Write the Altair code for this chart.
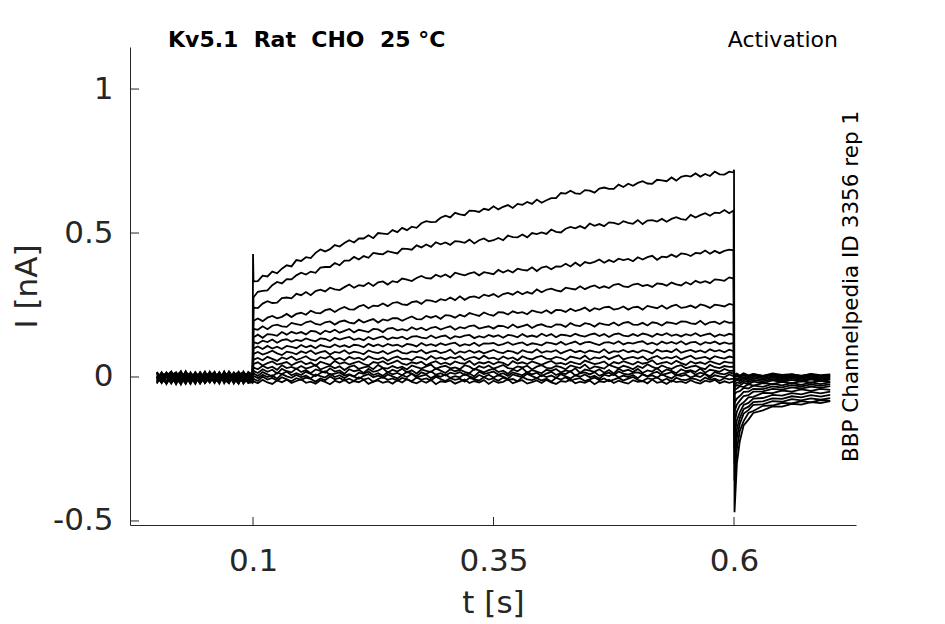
import altair as alt
import pandas as pd

# ---------------- data ----------------
TITLE = "Kv5.1\u00a0\u00a0Rat\u00a0\u00a0CHO\u00a0\u00a025\u00a0°C"
PROTOCOL = "Activation"
SOURCE = "BBP Channelpedia ID 3356 rep 1"

X_TICKS = [0.1, 0.35, 0.6]
Y_TICKS = [-0.5, 0, 0.5, 1]

# sample times [s]
PRE_T = [0.000, 0.005, 0.010, 0.015, 0.020, 0.025, 0.030, 0.035, 0.040, 0.045,
         0.050, 0.055, 0.060, 0.065, 0.070, 0.075, 0.080, 0.085, 0.090, 0.095, 0.0995]
PULSE_T = [0.1005, 0.105, 0.110, 0.115, 0.120, 0.125, 0.130, 0.135, 0.140, 0.145,
           0.150, 0.155, 0.160, 0.165, 0.170, 0.175, 0.180, 0.185, 0.190, 0.195,
           0.200, 0.205, 0.210, 0.215, 0.220, 0.225, 0.230, 0.235, 0.240, 0.245,
           0.250, 0.255, 0.260, 0.265, 0.270, 0.275, 0.280, 0.285, 0.290, 0.295,
           0.300, 0.305, 0.310, 0.315, 0.320, 0.325, 0.330, 0.335, 0.340, 0.345,
           0.350, 0.355, 0.360, 0.365, 0.370, 0.375, 0.380, 0.385, 0.390, 0.395,
           0.400, 0.405, 0.410, 0.415, 0.420, 0.425, 0.430, 0.435, 0.440, 0.445,
           0.450, 0.455, 0.460, 0.465, 0.470, 0.475, 0.480, 0.485, 0.490, 0.495,
           0.500, 0.505, 0.510, 0.515, 0.520, 0.525, 0.530, 0.535, 0.540, 0.545,
           0.550, 0.555, 0.560, 0.565, 0.570, 0.575, 0.580, 0.585, 0.590, 0.595, 0.5995]
TAIL_T = [0.6005, 0.603, 0.606, 0.61, 0.615, 0.62, 0.63, 0.64, 0.65, 0.66, 0.67, 0.68, 0.69, 0.70]

# capacitive spikes of the largest trace (trace 1), nA
SPIKE_T = [0.1, 0.6]
SPIKE_V = [0.427, 0.72]

# holding current before the step, pA (1e-3 nA)
PRE_PA = [
    [10, -18, 3, 19, -10, -1, -22, 12, -6, 16, -14, 5, -21, 9, -3, 15, -9, 18, -16, 4, 2],
    [-15, 7, -23, 1, 16, -9, 11, -19, 4, -5, 19, -12, -1, 13, -22, 6, -8, 10, 15, -17, -8],
    [16, -7, 8, -20, -1, 20, -14, 2, -24, 13, -4, 7, -17, 17, -11, 1, -20, 11, -6, 5, 4],
    [-6, 17, -15, 5, -25, 9, -2, -11, 14, -20, 3, 12, -8, -18, 19, -13, 2, -22, 13, -3, -7],
    [3, -21, 12, -5, 8, -16, 19, -9, -1, -23, 11, -6, 16, -14, 5, -20, 10, -2, -17, 18, 6],
    [-20, 8, -3, 17, -14, 2, -24, 12, -8, 6, -18, 19, -5, 3, -15, 14, -23, 5, -11, 11, -10],
    [13, -10, -21, 4, 14, -13, 20, -6, -17, 8, 1, -20, 10, -9, 17, -3, -15, 15, -23, 2, 9],
    [-12, 14, 1, -23, 6, 17, -15, -1, -9, 11, -21, 5, 16, -12, -5, 13, -19, 8, -1, -20, -4],
    [18, -15, 5, -6, -20, 9, 2, -24, 14, -11, 8, -17, -2, 16, -8, -22, 11, -12, 19, -5, 5],
    [-18, 2, 15, -9, 11, -26, 8, -1, -15, 17, -6, 12, -20, 5, 10, -11, 1, -23, 14, -14, -5],
    [5, -20, 13, 2, -12, 17, -19, 7, 11, -22, -1, -9, 18, -15, 4, 14, -5, -20, 8, -2, 2],
    [-6, 11, -24, 8, 15, -8, -1, -18, 17, -3, -15, 6, 2, -23, 12, -10, 16, -5, -17, 9, -13],
    [15, -5, -18, 11, -23, 5, 13, -12, -8, 8, -20, 1, 14, -10, 18, -17, 4, -3, 11, -21, -18],
    [-23, 8, 2, -15, 12, -3, -20, 16, -9, 3, 11, -18, 6, -1, -13, 15, -7, -21, 5, 13, 11],
    [-1, -18, 16, -6, -13, 12, 5, -23, 10, -16, 2, 15, -10, -4, 13, -15, 6, 17, -20, -7, 4],
    [-9, 10, -19, 14, -5, -24, 8, 12, -15, 5, -21, -2, 9, -11, 16, -17, 1, -12, 13, -6, -20],
    [-4, 12, -20, 6, -15, 17, -9, 2, -22, 10, -6, 15, -18, 4, -12, 19, -3, -16, 8, -10, 1],
]

# current during the step (0.1 .. 0.6 s), pA
PULSE_PA = [
    [332, 333, 352, 349, 366, 360, 376, 388, 384, 406,
     403, 416, 413, 431, 443, 436, 444, 458, 453, 465,
     475, 467, 481, 481, 492, 482, 500, 498, 496, 510,
     503, 518, 510, 522, 518, 534, 541, 538, 539, 553,
     560, 554, 570, 565, 562, 578, 577, 573, 584, 580,
     593, 582, 591, 597, 587, 601, 598, 608, 601, 616,
     605, 614, 621, 621, 639, 637, 647, 638, 636, 649,
     647, 640, 654, 658, 653, 653, 668, 660, 671, 664,
     674, 680, 672, 671, 685, 683, 680, 693, 682, 695,
     699, 696, 707, 696, 705, 698, 713, 704, 703, 713, 710],
    [277, 296, 299, 301, 319, 330, 325, 340, 339, 353,
     362, 356, 366, 362, 380, 382, 382, 396, 388, 404,
     404, 417, 408, 420, 414, 431, 428, 426, 437, 433,
     429, 446, 445, 442, 457, 450, 460, 452, 468, 461,
     467, 459, 472, 470, 466, 477, 464, 475, 481, 471,
     475, 483, 475, 491, 486, 485, 495, 485, 500, 496,
     502, 497, 512, 504, 502, 515, 521, 516, 524, 516,
     533, 525, 531, 524, 537, 535, 530, 541, 535, 532,
     545, 531, 543, 545, 540, 549, 539, 549, 555, 548,
     546, 563, 554, 562, 569, 560, 571, 569, 580, 569, 578],
    [241, 239, 255, 263, 257, 258, 274, 276, 273, 289,
     284, 295, 284, 298, 303, 297, 310, 304, 302, 312,
     321, 310, 319, 316, 327, 316, 329, 332, 321, 333,
     329, 342, 338, 333, 344, 351, 343, 342, 355, 348,
     356, 346, 362, 357, 353, 360, 364, 353, 364, 361,
     357, 372, 363, 371, 363, 376, 372, 370, 381, 368,
     380, 384, 374, 384, 383, 393, 384, 397, 386, 399,
     395, 400, 408, 397, 406, 399, 411, 406, 410, 402,
     416, 408, 416, 421, 407, 418, 416, 425, 417, 429,
     427, 420, 431, 429, 439, 428, 438, 430, 438, 442, 440],
    [195, 203, 194, 206, 212, 204, 209, 219, 208, 219,
     223, 216, 230, 223, 221, 232, 236, 226, 236, 243,
     235, 234, 245, 250, 239, 248, 246, 255, 246, 257,
     260, 252, 250, 260, 263, 254, 267, 265, 260, 270,
     266, 276, 267, 280, 268, 277, 280, 274, 286, 281,
     288, 278, 288, 292, 286, 297, 287, 295, 289, 304,
     294, 303, 307, 301, 297, 310, 307, 304, 315, 305,
     313, 318, 309, 315, 309, 320, 323, 315, 312, 321,
     324, 316, 320, 313, 325, 323, 317, 328, 322, 318,
     329, 321, 334, 327, 333, 326, 339, 337, 334, 346, 342],
    [167, 164, 176, 166, 178, 182, 176, 174, 188, 184,
     180, 190, 194, 184, 181, 190, 193, 182, 192, 196,
     189, 186, 199, 189, 196, 201, 189, 200, 196, 204,
     204, 195, 203, 210, 201, 200, 212, 206, 212, 202,
     215, 213, 206, 216, 210, 222, 217, 212, 224, 217,
     213, 225, 224, 217, 228, 222, 225, 218, 231, 226,
     223, 232, 221, 233, 232, 226, 237, 229, 234, 241,
     229, 239, 234, 242, 244, 234, 237, 245, 234, 242,
     244, 234, 247, 243, 239, 248, 237, 246, 251, 240,
     243, 248, 240, 252, 248, 240, 251, 249, 245, 254, 250],
    [138, 147, 136, 149, 147, 143, 156, 147, 157, 151,
     156, 148, 160, 158, 149, 161, 155, 164, 154, 160,
     167, 155, 164, 160, 156, 167, 165, 156, 168, 170,
     162, 166, 161, 173, 165, 171, 162, 171, 174, 165,
     171, 176, 164, 173, 169, 177, 179, 168, 172, 176,
     168, 178, 177, 170, 182, 172, 177, 182, 170, 179,
     183, 176, 173, 183, 182, 174, 187, 179, 177, 187,
     184, 175, 187, 183, 180, 189, 179, 188, 191, 182,
     181, 188, 179, 190, 187, 179, 190, 188, 184, 193,
     192, 186, 184, 195, 182, 190, 192, 184, 194, 188, 190],
    [121, 116, 126, 121, 130, 119, 128, 131, 122, 129,
     125, 134, 128, 124, 134, 132, 125, 136, 130, 135,
     139, 129, 134, 128, 139, 131, 137, 141, 130, 137,
     134, 140, 131, 140, 142, 137, 134, 144, 135, 141,
     144, 133, 142, 138, 144, 146, 135, 142, 137, 146,
     140, 145, 136, 146, 144, 138, 149, 140, 144, 139,
     150, 142, 149, 138, 147, 145, 141, 150, 144, 140,
     147, 151, 142, 149, 139, 148, 151, 144, 141, 149,
     142, 151, 147, 140, 150, 145, 152, 143, 148, 141,
     149, 144, 152, 142, 147, 151, 140, 148, 143, 150, 146],
    [99, 106, 97, 108, 99, 105, 97, 108, 105, 100,
     111, 103, 109, 100, 111, 106, 103, 113, 105, 110,
     103, 112, 110, 103, 115, 107, 113, 106, 115, 109,
     112, 105, 115, 112, 106, 118, 109, 114, 108, 117,
     111, 116, 119, 108, 114, 110, 119, 108, 117, 116,
     118, 110, 114, 121, 112, 117, 120, 110, 117, 114,
     110, 120, 118, 113, 122, 112, 118, 123, 113, 120,
     122, 116, 111, 119, 121, 115, 124, 113, 119, 116,
     121, 124, 114, 119, 112, 123, 116, 122, 115, 124,
     113, 120, 122, 112, 121, 117, 123, 114, 120, 115, 118],
    [80, 87, 78, 84, 91, 82, 76, 88, 85, 79,
     89, 83, 92, 80, 86, 90, 78, 87, 84, 93,
     81, 88, 85, 79, 92, 86, 83, 90, 80, 87,
     93, 84, 81, 89, 86, 94, 82, 88, 91, 83,
     87, 95, 80, 89, 85, 92, 84, 90, 82, 88,
     94, 86, 83, 91, 88, 81, 93, 87, 85, 96,
     84, 90, 87, 93, 82, 89, 95, 86, 91, 84,
     92, 88, 85, 96, 83, 90, 87, 94, 86, 91,
     85, 93, 89, 82, 95, 88, 91, 86, 97, 84,
     90, 94, 87, 92, 85, 96, 89, 93, 86, 95, 90],
    [60, 66, 58, 70, 63, 56, 68, 62, 71, 59,
     65, 72, 61, 57, 69, 64, 73, 60, 66, 58,
     70, 63, 67, 59, 72, 65, 61, 68, 57, 66,
     71, 62, 64, 58, 70, 67, 60, 73, 63, 68,
     61, 69, 65, 72, 59, 66, 70, 62, 74, 64,
     67, 60, 71, 63, 68, 58, 72, 65, 61, 69,
     73, 64, 62, 70, 66, 59, 71, 67, 63, 74,
     60, 68, 65, 72, 62, 69, 75, 61, 66, 70,
     64, 71, 59, 67, 73, 63, 69, 65, 72, 61,
     68, 74, 63, 66, 70, 62, 72, 67, 64, 71, 68],
    [45, 51, 40, 48, 54, 43, 47, 52, 41, 49,
     55, 44, 50, 39, 53, 47, 42, 56, 46, 51,
     43, 49, 54, 45, 40, 52, 48, 55, 44, 50,
     57, 46, 42, 51, 47, 53, 41, 49, 55, 45,
     50, 43, 54, 48, 46, 56, 42, 51, 47, 53,
     44, 52, 49, 40, 55, 47, 51, 45, 54, 48,
     42, 50, 56, 46, 49, 43, 53, 48, 44, 57,
     51, 45, 48, 54, 41, 52, 47, 55, 49, 43,
     53, 46, 50, 58, 44, 49, 52, 45, 56, 48,
     42, 54, 47, 51, 45, 55, 49, 44, 53, 50, 50],
    [33, 27, 39, 30, 36, 25, 41, 31, 35, 28,
     38, 29, 34, 42, 26, 33, 39, 30, 37, 24,
     35, 40, 28, 33, 37, 27, 42, 32, 29, 38,
     31, 36, 26, 40, 34, 29, 37, 43, 28, 35,
     39, 30, 33, 27, 41, 36, 25, 38, 32, 40,
     29, 35, 42, 31, 28, 37, 33, 39, 26, 36,
     41, 32, 30, 38, 34, 27, 40, 35, 31, 43,
     28, 37, 33, 29, 42, 36, 30, 39, 34, 27,
     38, 31, 44, 35, 29, 40, 33, 28, 37, 41,
     30, 36, 39, 32, 27, 42, 34, 31, 38, 35, 36],
    [21, 14, 27, 18, 25, 12, 28, 20, 16, 29,
     17, 24, 13, 26, 21, 15, 30, 19, 23, 11,
     27, 20, 24, 14, 28, 18, 22, 31, 15, 25,
     19, 29, 16, 23, 12, 26, 21, 17, 30, 22,
     14, 27, 20, 25, 18, 13, 28, 23, 16, 24,
     29, 17, 22, 11, 26, 20, 31, 15, 24, 19,
     13, 25, 21, 28, 16, 23, 19, 30, 14, 26,
     22, 18, 27, 15, 24, 12, 29, 20, 25, 17,
     28, 14, 23, 19, 31, 16, 26, 21, 13, 27,
     20, 24, 17, 29, 15, 25, 22, 18, 28, 21, 22],
    [12, 4, 17, 9, 2, 15, 10, 19, 6, 13,
     7, 18, 11, 3, 14, 20, 8, 12, 16, 5,
     10, 2, 15, 11, 19, 7, 13, 4, 17, 9,
     14, 6, 18, 12, 3, 16, 10, 20, 8, 13,
     5, 15, 11, 17, 7, 12, 2, 18, 10, 14,
     19, 8, 13, 4, 16, 11, 6, 17, 9, 15,
     3, 12, 18, 7, 14, 10, 20, 5, 13, 16,
     9, 17, 4, 11, 15, 6, 19, 12, 8, 14,
     16, 10, 2, 13, 18, 7, 12, 17, 5, 11,
     14, 20, 8, 15, 10, 3, 17, 12, 9, 16, 12],
    [4, -4, 8, 0, 6, -6, 10, 2, -3, 7,
     -1, 5, -5, 9, 3, -2, 11, 0, 6, -4,
     7, 1, -6, 4, 10, -1, 5, -3, 9, 2,
     -5, 6, 0, 11, -2, 4, 8, -4, 5, 1,
     9, -3, 3, -1, 10, 2, -5, 7, 0, 8,
     -2, 6, 1, -6, 9, 4, -1, 11, 3, -4,
     7, 0, 5, -3, 10, 2, -5, 6, 1, 9,
     -1, 4, -6, 8, 3, 11, -2, 5, 0, 7,
     -4, 9, 2, 6, -3, 10, 1, -5, 7, 3,
     8, -2, 5, 0, 11, -4, 6, 2, -1, 9, 3],
    [-6, -14, 1, -9, -3, -13, -1, -8, -15, -4,
     -10, -2, -7, -16, -5, -11, 2, -8, -3, -12,
     -6, -14, -1, -9, -4, -17, -7, 0, -10, -5,
     -13, -3, -8, -15, -2, -9, -5, -12, 1, -7,
     -14, -4, -10, -6, -16, -3, -8, -12, -1, -9,
     -5, -13, -2, -10, -7, -15, 0, -8, -11, -4,
     -12, -6, -16, -3, -9, -1, -13, -7, -4, -14,
     -8, -2, -11, -5, -15, -9, -3, -12, -6, 0,
     -10, -14, -4, -8, -1, -13, -6, -16, -3, -9,
     -11, -5, -7, -14, -2, -10, -6, -13, -4, -8, -6],
    [-15, -22, -10, -19, -24, -12, -18, -9, -21, -14,
     -8, -20, -16, -23, -11, -17, -25, -13, -19, -10,
     -22, -14, -18, -9, -24, -16, -12, -20, -15, -23,
     -11, -19, -7, -17, -22, -13, -20, -10, -25, -15,
     -18, -12, -23, -16, -9, -21, -14, -19, -11, -24,
     -13, -20, -17, -8, -22, -15, -11, -23, -18, -12,
     -21, -10, -19, -24, -14, -17, -9, -22, -16, -20,
     -12, -25, -15, -18, -10, -21, -13, -19, -23, -11,
     -17, -14, -22, -9, -20, -16, -24, -12, -18, -15,
     -21, -11, -19, -23, -13, -17, -10, -22, -15, -20, -16],
]

# tail currents after the step, nA
TAIL = [
    [-0.47, -0.30, -0.223, -0.168, -0.148, -0.125, -0.116, -0.102, -0.103, -0.093, -0.096, -0.087, -0.091, -0.084],
    [-0.36, -0.25, -0.187, -0.153, -0.125, -0.118, -0.100, -0.099, -0.090, -0.092, -0.084, -0.088, -0.080, -0.083],
    [-0.30, -0.21, -0.163, -0.127, -0.115, -0.097, -0.095, -0.084, -0.086, -0.077, -0.081, -0.074, -0.079, -0.073],
    [-0.25, -0.18, -0.143, -0.112, -0.103, -0.087, -0.085, -0.074, -0.076, -0.067, -0.071, -0.063, -0.068, -0.062],
    [-0.20, -0.15, -0.123, -0.097, -0.090, -0.075, -0.073, -0.062, -0.065, -0.056, -0.060, -0.052, -0.057, -0.051],
    [-0.16, -0.12, -0.098, -0.088, -0.071, -0.069, -0.055, -0.056, -0.047, -0.051, -0.043, -0.048, -0.041, -0.045],
    [-0.12, -0.095, -0.082, -0.066, -0.063, -0.051, -0.050, -0.041, -0.044, -0.036, -0.040, -0.033, -0.038, -0.032],
    [-0.09, -0.075, -0.066, -0.052, -0.051, -0.041, -0.042, -0.033, -0.036, -0.028, -0.033, -0.026, -0.031, -0.025],
    [-0.06, -0.052, -0.049, -0.038, -0.040, -0.030, -0.034, -0.024, -0.029, -0.021, -0.027, -0.019, -0.025, -0.018],
    [-0.045, -0.040, -0.032, -0.035, -0.025, -0.030, -0.021, -0.025, -0.017, -0.022, -0.014, -0.020, -0.013, -0.018],
    [-0.035, -0.028, -0.030, -0.020, -0.025, -0.016, -0.021, -0.012, -0.018, -0.010, -0.016, -0.008, -0.015, -0.009],
    [-0.025, -0.019, -0.022, -0.013, -0.018, -0.010, -0.015, -0.007, -0.013, -0.005, -0.012, -0.004, -0.011, -0.006],
    [-0.016, -0.010, -0.015, -0.006, -0.012, -0.004, -0.010, -0.001, -0.008, 0.000, -0.007, 0.001, -0.008, -0.002],
    [-0.008, -0.004, -0.009, -0.002, -0.006, 0.001, -0.005, 0.002, -0.004, 0.003, -0.003, 0.002, -0.004, 0.001],
    [-0.002, 0.004, -0.003, 0.005, -0.001, 0.006, 0.000, 0.007, -0.002, 0.005, 0.001, 0.006, -0.001, 0.004],
    [0.004, 0.008, 0.002, 0.009, 0.003, 0.010, 0.004, 0.008, 0.002, 0.009, 0.005, 0.010, 0.003, 0.007],
    [0.008, 0.012, 0.005, 0.013, 0.006, 0.011, 0.004, 0.012, 0.007, 0.010, 0.003, 0.011, 0.006, 0.009],
]

# ---------------- build table ----------------
rows = []
for k in range(len(PRE_PA)):
    ts = PRE_T + PULSE_T + TAIL_T
    vs = [p / 1000 for p in PRE_PA[k]] + [p / 1000 for p in PULSE_PA[k]] + TAIL[k]
    if k == 0:
        ts = ts + SPIKE_T
        vs = vs + SPIKE_V
    for t, v in zip(ts, vs):
        rows.append({"trace": k + 1, "t": t, "v": v})
df = pd.DataFrame(rows).sort_values(["trace", "t"])

W, H = 726, 478
INK = "#262626"
FONT = "DejaVu Sans"

xs = alt.Scale(domain=[-0.0279, 0.7268], nice=False, zero=False)
ys = alt.Scale(domain=[-0.514, 1.146], nice=False, zero=False)

x_axis = alt.Axis(
    values=X_TICKS, labelExpr="toString(datum.value)", title="t [s]",
    ticks=False, grid=False, domainColor=INK, labelColor=INK, titleColor=INK,
    labelFont=FONT, titleFont=FONT, labelFontSize=31, titleFontSize=31,
    titleFontWeight="normal", labelPadding=21, titleX=W / 2, titleY=78,
    titleBaseline="middle", titleAlign="center", labelFlush=False)
y_axis = alt.Axis(
    values=Y_TICKS, labelExpr="toString(datum.value)", title="I [nA]",
    ticks=False, grid=False, domainColor=INK, labelColor=INK, titleColor=INK,
    labelFont=FONT, titleFont=FONT, labelFontSize=31, titleFontSize=31,
    titleFontWeight="normal", labelPadding=17, titleX=-103, titleY=239,
    titleAngle=270, titleBaseline="middle", titleAlign="center", labelFlush=False)

lines = alt.Chart(df).mark_line(color="black", strokeWidth=1.8, clip=True).encode(
    x=alt.X("t:Q", scale=xs, axis=x_axis),
    y=alt.Y("v:Q", scale=ys, axis=y_axis),
    detail="trace:N",
    order="t:Q",
)

ytick = alt.Chart(pd.DataFrame({"v": Y_TICKS})).mark_rule(color=INK, strokeWidth=1).encode(
    y=alt.Y("v:Q", scale=ys, axis=y_axis), x=alt.value(0), x2=alt.value(9))
xtick = alt.Chart(pd.DataFrame({"t": X_TICKS})).mark_rule(color=INK, strokeWidth=1).encode(
    x=alt.X("t:Q", scale=xs, axis=x_axis), y=alt.value(H), y2=alt.value(H - 8))

title = alt.Chart(pd.DataFrame({"s": [TITLE]})).mark_text(
    font=FONT, fontSize=22, fontWeight="bold", color="black", align="left", baseline="alphabetic"
).encode(text="s:N", x=alt.value(38), y=alt.value(0))
proto = alt.Chart(pd.DataFrame({"s": [PROTOCOL]})).mark_text(
    font=FONT, fontSize=22, color="black", align="right", baseline="alphabetic"
).encode(text="s:N", x=alt.value(708), y=alt.value(0))
source = alt.Chart(pd.DataFrame({"s": [SOURCE]})).mark_text(
    font=FONT, fontSize=21.5, color="black", align="center", baseline="alphabetic", angle=270
).encode(text="s:N", x=alt.value(728), y=alt.value(239.5))

chart = alt.layer(lines, ytick, xtick, title, proto, source).properties(
    width=W, height=H,
    padding={"left": 122, "top": 39, "right": 70, "bottom": 94},
    autosize=alt.AutoSizeParams(type="none"),
).configure(background="white").configure_view(stroke=None)

chart.save("out.html", embed_options={"renderer": "svg", "actions": False})
